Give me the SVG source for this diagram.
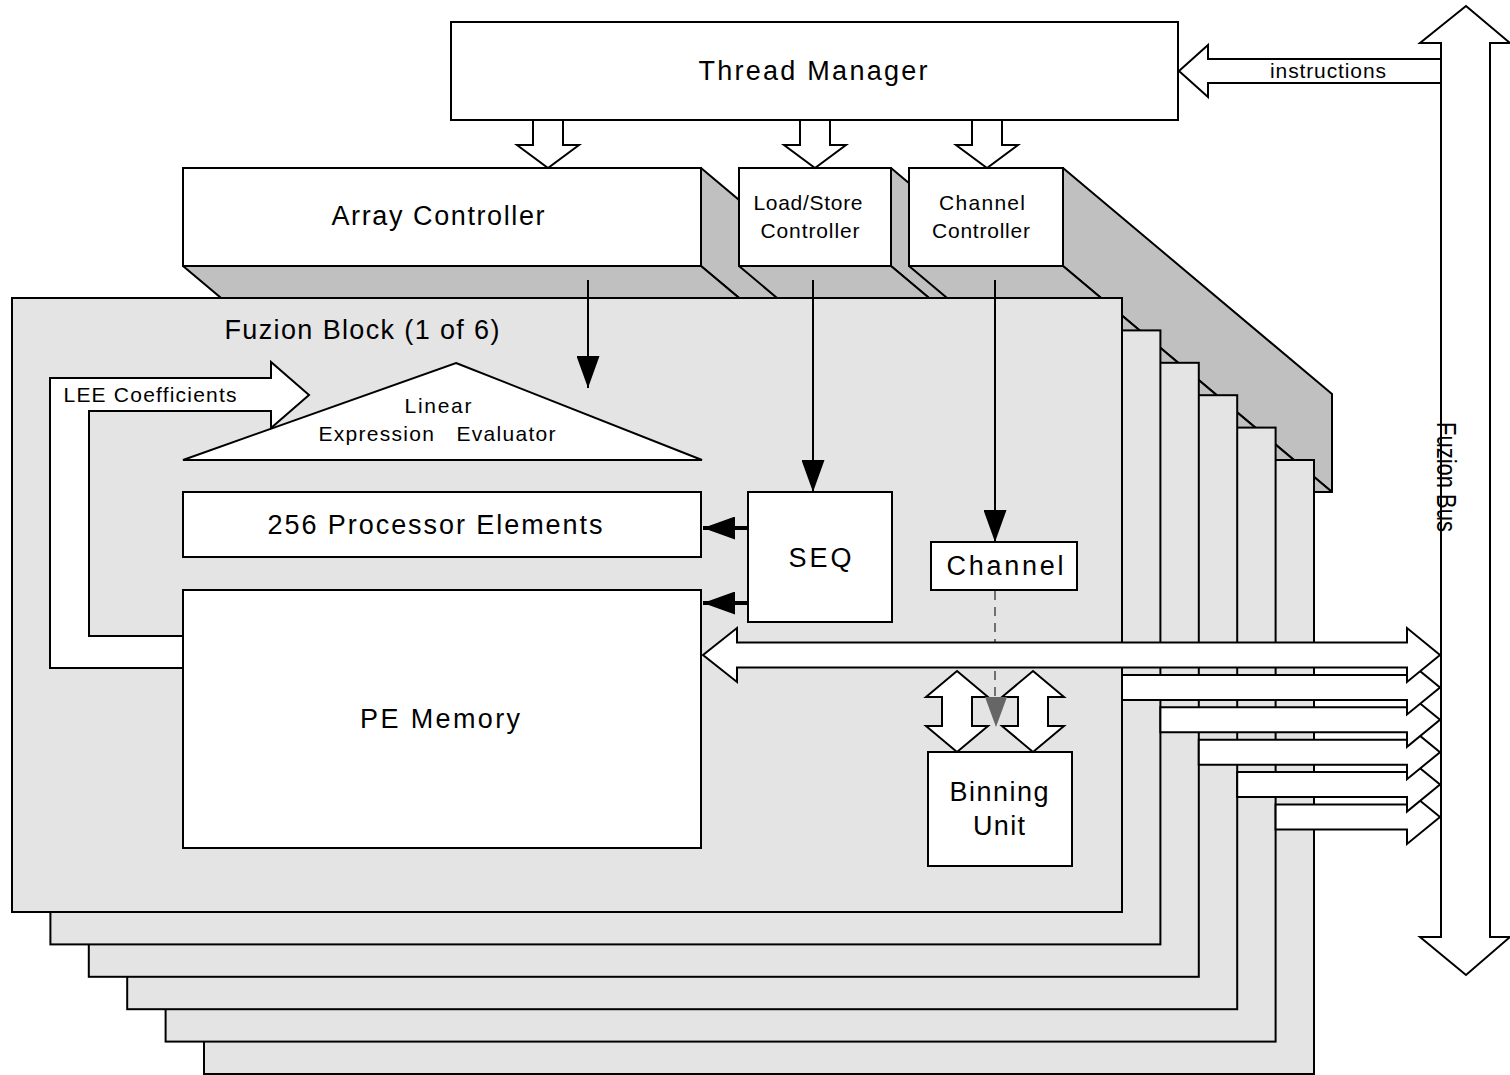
<svg xmlns="http://www.w3.org/2000/svg" width="1510" height="1075" viewBox="0 0 1510 1075">
<style>
.box{fill:#fff;stroke:#000;stroke-width:2}
.side{fill:#c0c0c0;stroke:#000;stroke-width:2;stroke-linejoin:round}
.blk{fill:#e4e4e4;stroke:#000;stroke-width:2}
.hollow{fill:#fff;stroke:#000;stroke-width:2;stroke-linejoin:miter}
.ln{fill:none;stroke:#000;stroke-width:2}
.thick{fill:none;stroke:#000;stroke-width:4}
.dash{fill:none;stroke:#707070;stroke-width:2;stroke-dasharray:9 7}
text{font-family:"Liberation Sans",Arial,sans-serif;fill:#000;text-anchor:middle}
.lg{font-size:27px}
.md{font-size:21px}
.sm{font-size:21px}
</style>
<defs>
<marker id="ah" markerUnits="userSpaceOnUse" markerWidth="33" markerHeight="23" refX="32" refY="11.5" orient="auto">
<path d="M0,0 L32,11.5 L0,23 z" fill="#000"/>
</marker>
</defs>
<rect width="1510" height="1075" fill="#fff"/>

<g id="thread-manager">
<rect class="box" x="451" y="22" width="727" height="98"/>
<text class="lg" x="813" y="80" textLength="229">Thread Manager</text>
</g>

<g id="array-controller">
<polygon class="side" points="701,168 970,394 970,492 701,266"/>
<polygon class="side" points="183,266 701,266 970,492 452,492"/>
<rect class="box" x="183" y="168" width="518" height="98"/>
<text class="lg" x="438" y="225" textLength="213">Array Controller</text>
</g>

<g id="loadstore-controller">
<polygon class="side" points="891,168 1160,394 1160,492 891,266"/>
<polygon class="side" points="739,266 891,266 1160,492 1008,492"/>
<rect class="box" x="739" y="168" width="152" height="98"/>
<text class="md" x="808" y="210" textLength="109">Load/Store</text>
<text class="md" x="810" y="238" textLength="99">Controller</text>
</g>

<g id="channel-controller">
<polygon class="side" points="1063,168 1332,394 1332,492 1063,266"/>
<polygon class="side" points="909,266 1063,266 1332,492 1178,492"/>
<rect class="box" x="909" y="168" width="154" height="98"/>
<text class="md" x="982" y="210" textLength="86">Channel</text>
<text class="md" x="981" y="238" textLength="98">Controller</text>
</g>

<g id="fuzion-block-6"><rect class="blk" x="204" y="460" width="1110" height="614"/></g>
<g id="fuzion-block-5"><rect class="blk" x="165.6" y="427.6" width="1110" height="614"/></g>
<g id="fuzion-block-4"><rect class="blk" x="127.2" y="395.2" width="1110" height="614"/></g>
<g id="fuzion-block-3"><rect class="blk" x="88.8" y="362.8" width="1110" height="614"/></g>
<g id="fuzion-block-2"><rect class="blk" x="50.4" y="330.4" width="1110" height="614"/></g>
<g id="fuzion-block-1">
<rect class="blk" x="12" y="298" width="1110" height="614"/>
<text class="lg" x="362" y="339" textLength="275">Fuzion Block (1 of 6)</text>
</g>

<g id="linear-expression-evaluator">
<polygon class="box" points="456,363 702,460 183,460"/>
<text class="sm" x="438" y="413" textLength="67">Linear</text>
<text class="sm" x="437" y="441" textLength="237" xml:space="preserve">Expression   Evaluator</text>
</g>

<g id="processor-elements">
<rect class="box" x="183" y="492" width="518" height="65"/>
<text class="lg" x="435" y="534" textLength="335">256 Processor Elements</text>
</g>

<g id="pe-memory">
<rect class="box" x="183" y="590" width="518" height="258"/>
<text class="lg" x="440" y="728" textLength="160">PE Memory</text>
</g>

<g id="seq">
<rect class="box" x="748" y="492" width="144" height="130"/>
<text class="lg" x="820" y="567" textLength="63">SEQ</text>
</g>

<g id="channel">
<rect class="box" x="931" y="542" width="146" height="48"/>
<text class="lg" x="1005" y="575" textLength="117">Channel</text>
</g>

<g id="binning-unit">
<rect class="box" x="928" y="752" width="144" height="114"/>
<text class="lg" x="999" y="801" textLength="99">Binning</text>
<text class="lg" x="999" y="835" textLength="52">Unit</text>
</g>

<g id="fuzion-bus">
<polygon class="hollow" points="1466,6 1510,43 1490,43 1490,937 1510,937 1466,975 1420,937 1441,937 1441,43 1420,43"/>
<text class="lg" x="0" y="0" transform="translate(1437,477) rotate(90)" textLength="110" lengthAdjust="spacingAndGlyphs">Fuzion Bus</text>
</g>

<g id="connectors">
<polygon class="hollow" points="533,120 563,120 563,145 579,145 548,168 517,145 533,145"/>
<polygon class="hollow" points="800,120 830,120 830,145 846,145 815,168 784,145 800,145"/>
<polygon class="hollow" points="972,120 1002,120 1002,145 1018,145 987,168 956,145 972,145"/>
<polygon class="hollow" points="1179,71 1208,45 1208,59 1441,59 1441,83 1208,83 1208,97"/>
<text class="sm" x="1328" y="78" textLength="116">instructions</text>

<line class="ln" x1="588" y1="280" x2="588" y2="388" marker-end="url(#ah)"/>
<line class="ln" x1="813" y1="280" x2="813" y2="492" marker-end="url(#ah)"/>
<line class="ln" x1="995" y1="280" x2="995" y2="542" marker-end="url(#ah)"/>
<line class="thick" x1="748" y1="528" x2="703" y2="528" marker-end="url(#ah)"/>
<line class="thick" x1="748" y1="603" x2="703" y2="603" marker-end="url(#ah)"/>

<polygon class="hollow" points="183,668 50,668 50,378 271,378 271,362 309,395 271,428 271,411 89,411 89,636 183,636"/>
<text class="sm" x="150" y="402" textLength="173">LEE Coefficients</text>

<line class="dash" x1="995" y1="591" x2="995" y2="700"/>

<polygon class="hollow" points="1275.6,804.5 1407,804.5 1407,790 1440,817 1407,844 1407,829.5 1275.6,829.5"/>
<polygon class="hollow" points="1237.2,772 1407,772 1407,757.6 1440,784.6 1407,811.6 1407,797 1237.2,797"/>
<polygon class="hollow" points="1198.8,739.8 1407,739.8 1407,725.2 1440,752.2 1407,779.2 1407,764.8 1198.8,764.8"/>
<polygon class="hollow" points="1160.4,707.3 1407,707.3 1407,692.8 1440,719.8 1407,746.8 1407,732.3 1160.4,732.3"/>
<polygon class="hollow" points="1122,674.9 1407,674.9 1407,660.4 1440,687.4 1407,714.4 1407,699.9 1122,699.9"/>
<polygon class="hollow" points="703,655 737,628 737,642.5 1407,642.5 1407,628 1440,655 1407,682 1407,667.5 737,667.5 737,682"/>

<polygon class="hollow" points="957,671 988,697 972,697 972,726 988,726 957,752 926,726 942,726 942,697 926,697"/>
<polygon class="hollow" points="1033,671 1064,697 1048,697 1048,726 1064,726 1033,752 1002,726 1018,726 1018,697 1002,697"/>
<polygon points="985,697 1007,697 996,727" fill="#666"/>
</g>
</svg>
